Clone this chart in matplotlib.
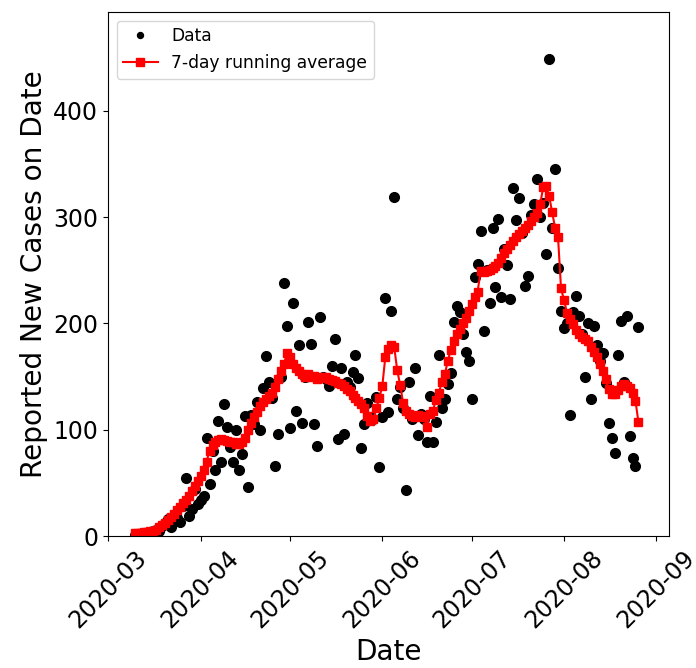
import matplotlib
matplotlib.use("Agg")
import matplotlib.pyplot as plt
import matplotlib.dates as mdates
from matplotlib.lines import Line2D
import pandas as pd

# Daily reported new cases, starting 2020-03-10
start_date = "2020-03-10"
cases = [
    1, 2, 1, 3, 2, 4, 5, 6, 5, 9, 12, 16, 8, 14, 17, 13, 28, 55, 19, 25,
    44, 30, 34, 38, 92, 49, 80, 62, 108, 70, 124, 103, 84, 70, 100, 62, 77, 113, 46, 114,
    105, 126, 100, 139, 169, 145, 130, 66, 96, 150, 238, 198, 102, 219, 118, 180, 106, 150, 201, 181,
    105, 85, 206, 150, 148, 141, 160, 185, 91, 158, 96, 145, 140, 154, 170, 149, 83, 105, 125, 112,
    110, 131, 65, 112, 224, 117, 212, 319, 129, 140, 120, 43, 145, 110, 158, 95, 115, 110, 88, 132,
    88, 107, 170, 120, 129, 143, 153, 201, 216, 211, 190, 173, 165, 129, 244, 256, 287, 193, 250, 219,
    290, 234, 298, 225, 270, 255, 223, 327, 297, 318, 285, 235, 245, 302, 312, 336, 300, 313, 265, 449,
    290, 345, 252, 212, 196, 200, 114, 211, 226, 207, 190, 150, 200, 129, 198, 180, 165, 172, 144, 106,
    92, 78, 170, 202, 145, 207, 94, 73, 66, 197,
]

# 7-day running average as plotted
running_avg = [
    3, 3, 3, 4, 4, 5, 5, 6, 8, 10, 12, 15, 18, 21, 24, 27, 31, 34, 38, 42,
    47, 52, 56, 62, 70, 80, 86, 88, 90, 91, 90, 89, 88, 88, 87, 87, 88, 92, 100, 106,
    112, 117, 122, 126, 129, 132, 135, 140, 148, 155, 162, 172, 168, 162, 158, 155, 152, 150, 152, 150,
    151, 148, 150, 149, 150, 148, 147, 146, 144, 143, 141, 138, 136, 133, 130, 127, 124, 120, 113, 108,
    110, 120, 130, 141, 168, 176, 180, 178, 156, 142, 125, 118, 115, 113, 112, 114, 113, 112, 103, 115,
    118, 128, 135, 145, 152, 165, 175, 183, 190, 195, 200, 205, 212, 218, 225, 230, 249, 248, 249, 250,
    252, 254, 257, 262, 266, 270, 274, 278, 281, 284, 287, 290, 293, 296, 300, 304, 312, 328, 329, 320,
    305, 290, 281, 233, 222, 210, 204, 199, 194, 190, 187, 185, 183, 178, 173, 168, 162, 155, 148, 138,
    134, 134, 137, 141, 143, 141, 139, 135, 127, 107,
]

dates = pd.date_range(start_date, periods=len(cases), freq="D")
avg_dates = pd.date_range(start_date, periods=len(running_avg), freq="D")

fig = plt.figure(figsize=(6.96, 6.68), dpi=100)
ax = fig.add_axes([108 / 696, 132 / 668, (669 - 108) / 696, (536 - 12) / 668])

ax.plot(dates, cases, linestyle="none", marker="o", color="black", markersize=7)
ax.plot(avg_dates, running_avg, color="red", marker="s", markersize=6, linewidth=1.5)

ax.set_xlim(pd.Timestamp("2020-02-29 22:00"), pd.Timestamp("2020-09-05 06:00"))
ax.set_ylim(0, 493)
ax.set_yticks([0, 100, 200, 300, 400])

ax.xaxis.set_major_locator(mdates.MonthLocator())
ax.xaxis.set_major_formatter(mdates.DateFormatter("%Y-%m"))
ax.tick_params(axis="both", labelsize=17)
plt.setp(ax.get_xticklabels(), rotation=45)

ax.set_xlabel("Date", fontsize=20.2)
ax.set_ylabel("Reported New Cases on Date", fontsize=20.2)

data_handle = Line2D([], [], linestyle="none", marker="o", color="black", markersize=4.3)
avg_handle = Line2D([], [], color="red", marker="s", markersize=6, linewidth=1.5)
ax.legend([data_handle, avg_handle], ["Data", "7-day running average"],
          loc="upper left", fontsize=12.3)

fig.savefig("out.png", dpi=100)
